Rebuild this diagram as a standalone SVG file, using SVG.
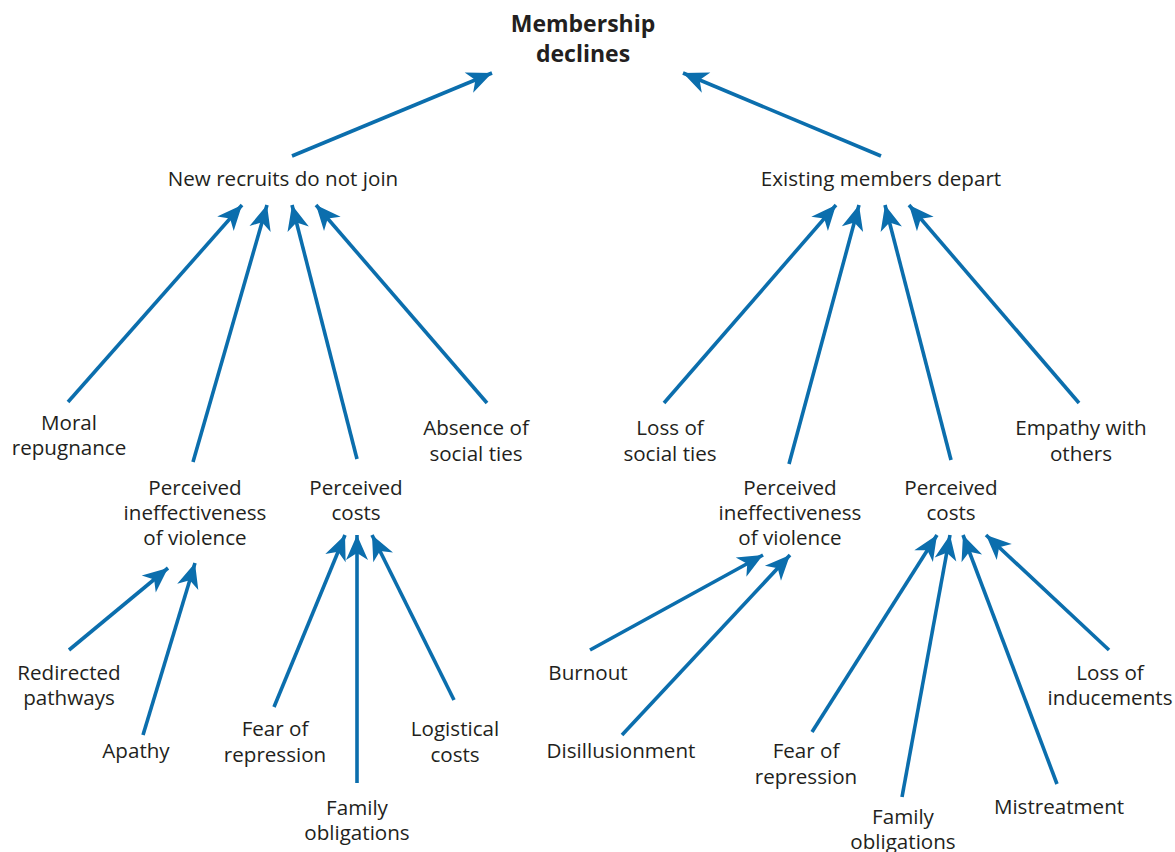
<svg xmlns="http://www.w3.org/2000/svg" width="1175" height="852" viewBox="0 0 1175 852">
<defs>
<marker id="ah" markerUnits="userSpaceOnUse" viewBox="-26 -12 28 24" refX="0" refY="0" markerWidth="28" markerHeight="24" orient="auto">
<path d="M0,0 L-25,-11 L-18,0 L-25,11 Z" fill="#0b6ead"/>
</marker>
<style>
.c line{stroke:#0b6ead;stroke-width:3.6;marker-end:url(#ah)}
text{font-family:"Open Sans","Noto Sans",sans-serif;font-size:20.6px;fill:#231f20;text-anchor:middle}
.t{font-weight:bold;font-size:23px}
</style>
</defs>
<rect width="1175" height="852" fill="#fff"/>
<g class="c" id="connectors">
<line x1="292" y1="156" x2="492" y2="73"/>
<line x1="881" y1="156" x2="683" y2="73"/>
<line x1="68" y1="402" x2="242" y2="205"/>
<line x1="193" y1="462" x2="267" y2="205"/>
<line x1="357" y1="459" x2="292" y2="205"/>
<line x1="487" y1="403" x2="316" y2="205"/>
<line x1="664" y1="403" x2="836" y2="205"/>
<line x1="789" y1="464" x2="859" y2="205"/>
<line x1="951" y1="460" x2="885" y2="205"/>
<line x1="1079" y1="403" x2="909" y2="205"/>
<line x1="69" y1="650" x2="168" y2="568"/>
<line x1="143" y1="735" x2="195" y2="563"/>
<line x1="274" y1="707" x2="345" y2="535"/>
<line x1="357" y1="783" x2="357" y2="535"/>
<line x1="454" y1="700" x2="372" y2="535"/>
<line x1="590" y1="650" x2="763" y2="555"/>
<line x1="622" y1="735" x2="790" y2="555"/>
<line x1="812" y1="732" x2="937" y2="535"/>
<line x1="902" y1="797" x2="950" y2="535"/>
<line x1="1057" y1="784" x2="963" y2="535"/>
<line x1="1109" y1="650" x2="986" y2="535"/>
</g>
<g id="membership"><text class="t" x="583" y="32">Membership</text><text class="t" x="583" y="62">declines</text></g>
<g id="new-recruits"><text x="283" y="186">New recruits do not join</text></g>
<g id="existing"><text x="881" y="186">Existing members depart</text></g>
<g id="moral"><text x="69" y="430">Moral</text><text x="69" y="455">repugnance</text></g>
<g id="pi-left"><text x="195" y="495">Perceived</text><text x="195" y="520">ineffectiveness</text><text x="195" y="545">of violence</text></g>
<g id="pc-left"><text x="356" y="495">Perceived</text><text x="356" y="520">costs</text></g>
<g id="absence"><text x="476" y="435">Absence of</text><text x="476" y="461">social ties</text></g>
<g id="loss-ties"><text x="670" y="435">Loss of</text><text x="670" y="461">social ties</text></g>
<g id="empathy"><text x="1081" y="435">Empathy with</text><text x="1081" y="461">others</text></g>
<g id="pi-right"><text x="790" y="495">Perceived</text><text x="790" y="520">ineffectiveness</text><text x="790" y="545">of violence</text></g>
<g id="pc-right"><text x="951" y="495">Perceived</text><text x="951" y="520">costs</text></g>
<g id="redirected"><text x="69" y="680">Redirected</text><text x="69" y="705">pathways</text></g>
<g id="apathy"><text x="136" y="758">Apathy</text></g>
<g id="fear-left"><text x="275" y="736">Fear of</text><text x="275" y="762">repression</text></g>
<g id="logistical"><text x="455" y="736">Logistical</text><text x="455" y="762">costs</text></g>
<g id="family-left"><text x="357" y="815">Family</text><text x="357" y="840">obligations</text></g>
<g id="burnout"><text x="588" y="680">Burnout</text></g>
<g id="disillusionment"><text x="621" y="758">Disillusionment</text></g>
<g id="fear-right"><text x="806" y="758">Fear of</text><text x="806" y="784">repression</text></g>
<g id="family-right"><text x="903" y="824">Family</text><text x="903" y="849">obligations</text></g>
<g id="mistreatment"><text x="1059" y="814">Mistreatment</text></g>
<g id="loss-inducements"><text x="1110" y="680">Loss of</text><text x="1110" y="705">inducements</text></g>
</svg>
